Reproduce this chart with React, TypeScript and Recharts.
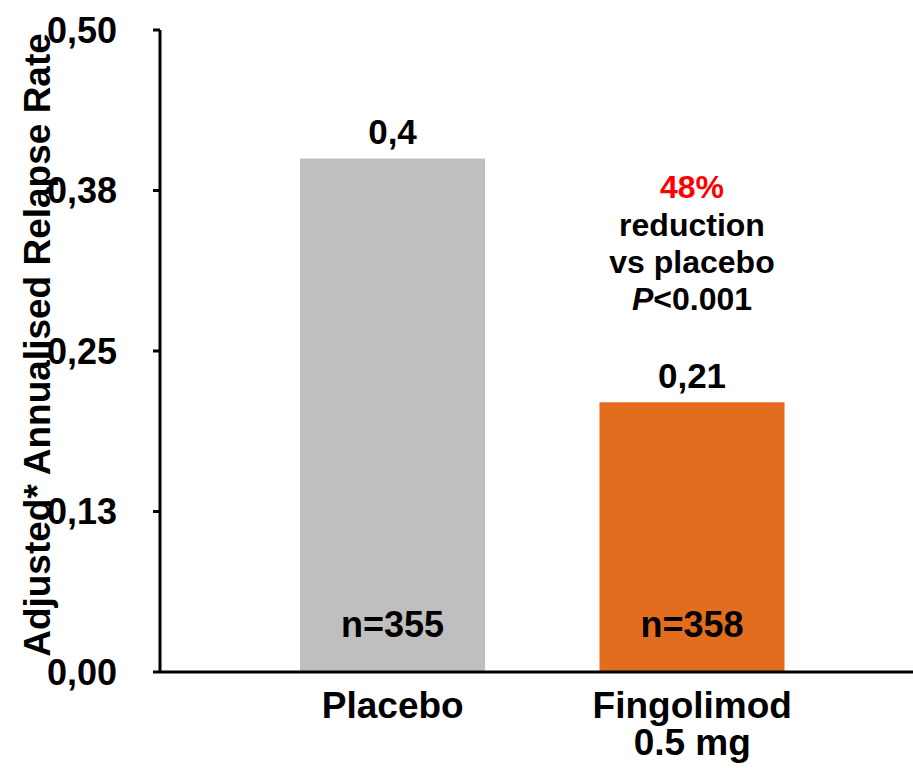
import React from 'react'
import { BarChart, Bar, XAxis, YAxis, Cell, LabelList } from 'recharts'

const groups = ['Placebo', 'Fingolimod\n0.5 mg']
const relapseRate = [0.4, 0.21]
const patients = [355, 358]
const barColors = ['#BFBFBF', '#E26D1F']

const yTicks = [0, 0.125, 0.25, 0.375, 0.5]
const yTickLabels = ['0,00', '0,13', '0,25', '0,38', '0,50']

const noteLines = ['48%', 'reduction', 'vs placebo', '<0.001']

const FONT = '"Liberation Sans", Arial, sans-serif'

const data = groups.map((name, i) => ({
  name,
  rate: relapseRate[i],
  n: patients[i]
}))

const CategoryTick = ({ x, y, payload }: any) => {
  const lines = String(payload.value).split('\n')
  return (
    <text x={x} y={y + 38} textAnchor="middle" fontFamily={FONT} fontWeight="bold" fontSize={37} fill="#000">
      {lines.map((line, i) => (
        <tspan key={i} x={x} dy={i === 0 ? 0 : 37}>{line}</tspan>
      ))}
    </text>
  )
}

const RateLabel = ({ x, y, width, value }: any) => (
  <text x={x + width / 2} y={y - 14} textAnchor="middle" fontFamily={FONT} fontWeight="bold" fontSize={35} fill="#000">
    {String(value).replace('.', ',')}
  </text>
)

const CountLabel = ({ x, y, width, height, value }: any) => (
  <text x={x + width / 2} y={y + height - 35} textAnchor="middle" fontFamily={FONT} fontWeight="bold" fontSize={36} fill="#000">
    n={value}
  </text>
)

// reduction note above the treated bar
const NoteLabel = ({ x, y, width, index }: any) => {
  if (index !== 1) return null
  const cx = x + width / 2
  const top = y - 204
  return (
    <text textAnchor="middle" fontFamily={FONT} fontWeight="bold" fontSize={32} fill="#000">
      <tspan x={cx} y={top} fill="#FF0000">{noteLines[0]}</tspan>
      <tspan x={cx} y={top + 38}>{noteLines[1]}</tspan>
      <tspan x={cx} y={top + 75}>{noteLines[2]}</tspan>
      <tspan x={cx} y={top + 112}><tspan fontStyle="italic">P</tspan>{noteLines[3]}</tspan>
    </text>
  )
}

const AxisTitle = () => {
  const cx = 37
  const cy = 345
  return (
    <text
      x={cx}
      y={cy}
      transform={`rotate(-90, ${cx}, ${cy})`}
      textAnchor="middle"
      dominantBaseline="central"
      fontFamily={FONT}
      fontWeight="bold"
      fontSize={37}
      fill="#000"
    >
      Adjusted* Annualised Relapse Rate
    </text>
  )
}

export default function App() {
  return (
    <div style={{ position: 'absolute', left: 0, top: 0, background: '#fff' }}>
      <BarChart width={913} height={768} data={data} margin={{ top: 30, right: 0, bottom: 0, left: 0 }}>
        <XAxis
          dataKey="name"
          height={96}
          padding={{ left: 83, right: 71 }}
          axisLine={{ stroke: '#000', strokeWidth: 3 }}
          tickLine={false}
          tick={<CategoryTick />}
          interval={0}
        />
        <YAxis
          width={160}
          domain={[0, 0.5]}
          ticks={yTicks}
          tickFormatter={(v: number) => yTickLabels[yTicks.indexOf(v)]}
          axisLine={{ stroke: '#000', strokeWidth: 3 }}
          tickLine={{ stroke: '#000', strokeWidth: 3 }}
          tickSize={7}
          tickMargin={36}
          tick={{ fill: '#000', fontSize: 36, fontWeight: 'bold', fontFamily: FONT }}
          label={<AxisTitle />}
        />
        <Bar dataKey="rate" barSize={185} isAnimationActive={false}>
          {data.map((d, i) => (
            <Cell key={d.name} fill={barColors[i]} />
          ))}
          <LabelList dataKey="rate" content={<RateLabel />} />
          <LabelList dataKey="n" content={<CountLabel />} />
          <LabelList dataKey="rate" content={<NoteLabel />} />
        </Bar>
      </BarChart>
    </div>
  )
}
